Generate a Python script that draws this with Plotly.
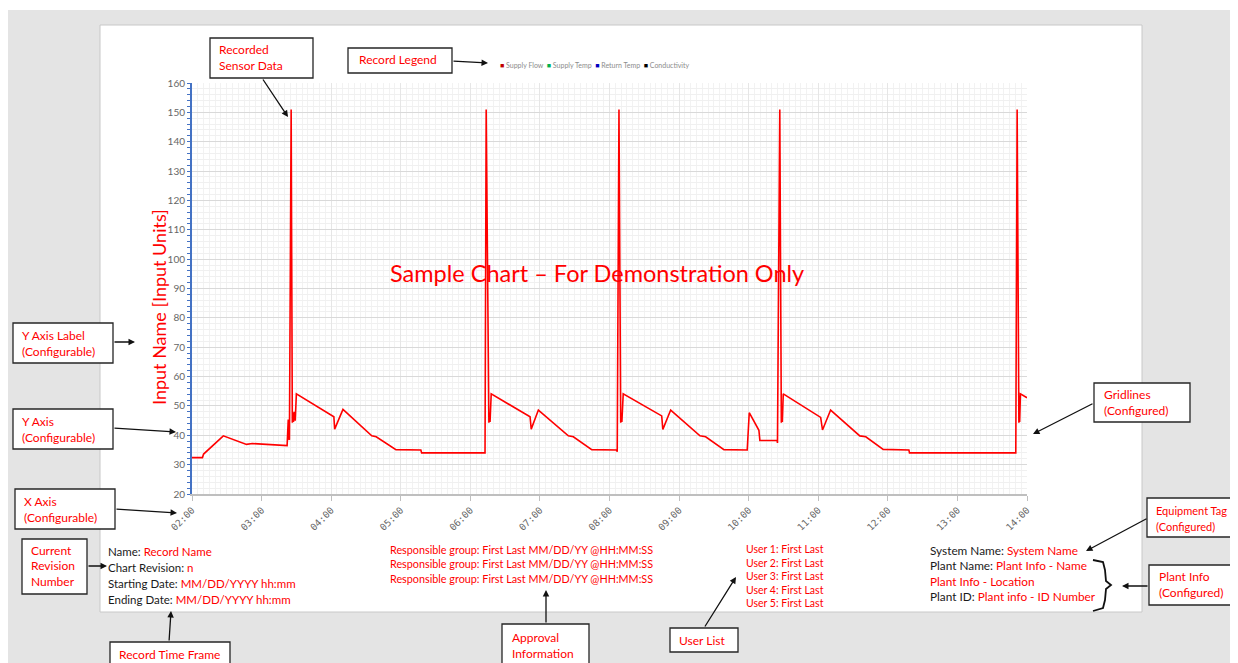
import plotly.graph_objects as go

# ---------------- data ----------------
times = [
    "02:00:00", "02:09:00", "02:10:00", "02:27:00", "02:47:00", "02:52:00",
    "03:22:00", "03:23:00", "03:23:30", "03:24:00", "03:25:30", "03:26:30",
    "03:27:00", "03:27:30", "03:28:00", "03:29:00", "03:30:00", "04:02:20",
    "04:03:00", "04:10:10", "04:35:00", "04:38:50", "04:55:50", "05:17:20",
    "05:18:00", "06:12:40", "06:13:40", "06:16:00", "06:16:30", "06:17:00",
    "06:18:00", "06:51:30", "06:52:30", "06:58:40", "07:24:30", "07:28:50",
    "07:44:40", "08:06:10", "08:06:40", "08:08:10", "08:09:40", "08:10:10",
    "08:10:40", "08:11:50", "08:45:00", "08:46:00", "08:52:45", "09:18:00",
    "09:22:55", "09:38:40", "09:58:45", "10:00:30", "10:08:50", "10:09:40",
    "10:24:35", "10:24:50", "10:26:50", "10:28:10", "10:28:40", "10:29:00",
    "10:29:50", "11:02:05", "11:03:40", "11:10:40", "11:35:50", "11:41:00",
    "11:56:00", "12:18:10", "12:18:40", "13:50:20", "13:51:30", "13:53:00",
    "13:53:20", "13:53:40", "13:54:20", "14:00:00",
]
supply_flow = [
    32.4, 32.4, 33.6, 39.8, 36.9, 37.2,
    36.5, 45.4, 38.7, 38.5, 151.0, 44.3,
    47.5, 44.5, 48.0, 45.0, 54.1, 46.3,
    42.1, 48.8, 39.8, 39.5, 35.1, 35.0,
    34.0, 34.0, 151.0, 44.3, 47.5, 44.5,
    54.1, 46.3, 42.1, 48.6, 39.8, 39.5,
    35.1, 35.0, 34.4, 151.0, 44.3, 47.5,
    44.5, 54.1, 46.6, 42.0, 48.6, 39.8,
    39.5, 35.1, 35.0, 47.7, 41.7, 38.2,
    38.2, 37.4, 151.0, 44.3, 47.5, 44.5,
    54.1, 46.1, 41.8, 48.6, 39.8, 39.5,
    35.2, 35.0, 34.0, 34.0, 151.0, 44.3,
    47.5, 44.5, 54.1, 52.8,
]
record_date = "2024-01-01 "
x_start, x_end = "02:00", "14:00"
y_range = [20, 160]

legend_names = ["Supply Flow", "Supply Temp", "Return Temp", "Conductivity"]
legend_colors = ["#c00000", "#00b050", "#0000c0", "#000000"]

left_info = [("Name: ", "Record Name"), ("Chart Revision: ", "n"),
             ("Starting Date: ", "MM/DD/YYYY hh:mm"), ("Ending Date: ", "MM/DD/YYYY hh:mm")]
approvals = ["Responsible group: First Last MM/DD/YY @HH:MM:SS"] * 3
users = ["User 1: First Last", "User 2: First Last", "User 3: First Last",
         "User 4: First Last", "User 5: First Last"]
plant_info = [("System Name: ", "System Name"), ("Plant Name: ", "Plant Info - Name"),
              ("", "Plant Info - Location"), ("Plant ID: ", "Plant info - ID Number")]

# ---------------- geometry helpers (screen pixels of the reference) ----------------
VW, VH = 1238, 663          # viewport
OFF = 8                      # page body margin
W, H = VW, VH                # figure size (overflows the viewport by the body margin)
L, R, T, B = 192, 1027, 83, 494   # plot area in screen pixels


def px(x):
    return (x - L) / (R - L)


def py(y):
    return (B - y) / (B - T)


RED = "#ff0000"
FONT = "Lato"

fig = go.Figure()
fig.add_trace(go.Scatter(
    x=[record_date + t for t in times], y=supply_flow, mode="lines",
    name="Supply Flow", line=dict(color=RED, width=1.6), showlegend=False,
))

fig.update_layout(
    width=W, height=H,
    margin=dict(l=L - OFF, r=W - (R - OFF), t=T - OFF, b=H - (B - OFF), autoexpand=False),
    paper_bgcolor="white", plot_bgcolor="rgba(0,0,0,0)", showlegend=False,
)
fig.update_xaxes(
    type="date", range=[record_date + x_start, record_date + x_end],
    tick0=record_date + x_start, dtick=3600000, tickformat="%H:%M", tickangle=-45,
    tickfont=dict(family="DejaVu Sans Mono", size=9.5, color="#666666"),
    showline=True, linecolor="#bfbfbf", linewidth=2,
    ticks="outside", ticklen=5, tickcolor="#bfbfbf",
    showgrid=True, gridcolor="#e6e6e6", gridwidth=1,
    minor=dict(dtick=300000, showgrid=True, gridcolor="#f2f2f2", ticks=""),
    zeroline=False, automargin=False,
)
fig.update_yaxes(
    range=y_range, dtick=10, tick0=0,
    tickfont=dict(family=FONT, size=10, color="#666666"),
    showline=True, linecolor="#4472c4", linewidth=2,
    ticks="outside", ticklen=3, tickcolor="#4472c4",
    showgrid=True, gridcolor="#d9d9d9", gridwidth=1,
    minor=dict(dtick=2, showgrid=True, gridcolor="#f0f0f0", ticks="outside",
               ticklen=3, tickcolor="#4472c4"),
    zeroline=False, automargin=False,
)

shapes = []
# background and page
shapes.append(dict(type="rect", xref="paper", yref="paper", x0=px(8), y0=py(10), x1=px(VW + 30), y1=py(VH + 30),
                   fillcolor="#e4e4e4", line=dict(width=0), layer="below"))
shapes.append(dict(type="rect", xref="paper", yref="paper", x0=px(100), y0=py(25), x1=px(1142), y1=py(612),
                   fillcolor="white", line=dict(color="#c8c8c8", width=1), layer="below"))

annotations = []


def callout(box, lines, text_x, text_y0, head, tail, size=12, spacing=16):
    x0, y0, x1, y1 = box
    shapes.append(dict(type="rect", xref="paper", yref="paper", x0=px(x0), y0=py(y0), x1=px(x1), y1=py(y1),
                       fillcolor="white", line=dict(color="#262626", width=1.3), layer="above"))
    for i, ln in enumerate(lines):
        annotations.append(dict(xref="paper", yref="paper", x=px(text_x), y=py(text_y0 + i * spacing),
                                text=ln, showarrow=False, xanchor="left", yanchor="middle",
                                font=dict(family=FONT, size=size, color=RED)))
    annotations.append(dict(xref="paper", yref="paper", x=px(head[0]), y=py(head[1]), text="",
                            showarrow=True, arrowhead=2, arrowsize=1, arrowwidth=1.3, arrowcolor="#111111",
                            ax=tail[0] - head[0], ay=tail[1] - head[1], standoff=0))


callout((210, 38, 313, 78), ["Recorded", "Sensor Data"], 217, 50, (288, 117), (262, 78))
callout((348, 48, 452, 73), ["Record Legend"], 357, 60, (488, 63), (452, 61))
callout((13, 323, 113, 363), ["Y Axis Label", "(Configurable)"], 20, 335, (135, 342), (113, 342))
callout((13, 409, 113, 449), ["Y Axis", "(Configurable)"], 20, 421, (176, 432), (113, 428))
callout((15, 489, 115, 529), ["X Axis", "(Configurable)"], 22, 501, (177, 513), (115, 509))
callout((22, 539, 87, 594), ["Current", "Revision", "Number"], 29, 550, (107, 566), (87, 566), spacing=15.5)
callout((110, 642, 230, 672), ["Record Time Frame"], 117, 654, (171, 611), (169, 642))
callout((502, 624, 589, 672), ["Approval", "Information"], 510, 637, (546, 590), (546, 624))
callout((670, 628, 738, 652), ["User List"], 677, 640, (736, 577), (704, 628))
callout((1094, 383, 1190, 422), ["Gridlines", "(Configured)"], 1102, 394, (1033, 434), (1094, 403))
callout((1147, 498, 1237, 537), ["Equipment Tag", "(Configured)"], 1154, 510, (1086, 551), (1148, 518),
        size=11)
callout((1149, 565, 1235, 605), ["Plant Info", "(Configured)"], 1157, 576, (1122, 586), (1149, 586))

# curly brace
brace_pts = [(1093, 560), (1103, 562), (1105, 570), (1106, 581), (1111, 585), (1106, 589),
             (1105, 600), (1103, 608), (1093, 611)]
path = "M " + " L ".join(f"{px(a):.5f},{py(b):.5f}" for a, b in brace_pts)
shapes.append(dict(type="path", xref="paper", yref="paper", path=path,
                   line=dict(color="#111111", width=1.8), layer="above"))

# legend (text legend like the reference)
leg = "  ".join(f'<span style="color:{c}">■</span> {n}' for n, c in zip(legend_names, legend_colors))
annotations.append(dict(xref="paper", yref="paper", x=px(498), y=py(65), text=leg, showarrow=False,
                        xanchor="left", yanchor="middle", font=dict(family=FONT, size=7, color="#8c8c8c")))

# watermark and y title
annotations.append(dict(xref="paper", yref="paper", x=px(597), y=py(273),
                        text="Sample Chart \u2013 For Demonstration Only", showarrow=False,
                        font=dict(family=FONT, size=23.5, color=RED)))
annotations.append(dict(xref="paper", yref="paper", x=px(146), y=py(307), text="Input Name [Input Units]",
                        textangle=-90, showarrow=False, font=dict(family=FONT, size=18, color=RED)))

# info blocks
for i, (k, v) in enumerate(left_info):
    annotations.append(dict(xref="paper", yref="paper", x=px(106), y=py(551 + i * 16), showarrow=False,
                            xanchor="left", yanchor="middle",
                            text=f'{k}<span style="color:{RED}">{v}</span>',
                            font=dict(family=FONT, size=11.5, color="#1a1a1a")))
for i, t in enumerate(approvals):
    annotations.append(dict(xref="paper", yref="paper", x=px(388), y=py(549 + i * 14.8), showarrow=False,
                            xanchor="left", yanchor="middle", text=t,
                            font=dict(family=FONT, size=10.8, color=RED)))
for i, t in enumerate(users):
    annotations.append(dict(xref="paper", yref="paper", x=px(744), y=py(549 + i * 13.6), showarrow=False,
                            xanchor="left", yanchor="middle", text=t,
                            font=dict(family=FONT, size=10.5, color=RED)))
for i, (k, v) in enumerate(plant_info):
    annotations.append(dict(xref="paper", yref="paper", x=px(928), y=py(550 + i * 15.6), showarrow=False,
                            xanchor="left", yanchor="middle",
                            text=f'{k}<span style="color:{RED}">{v}</span>',
                            font=dict(family=FONT, size=11.8, color="#1a1a1a")))

fig.update_layout(shapes=shapes, annotations=annotations)
fig.write_html("out.html")
